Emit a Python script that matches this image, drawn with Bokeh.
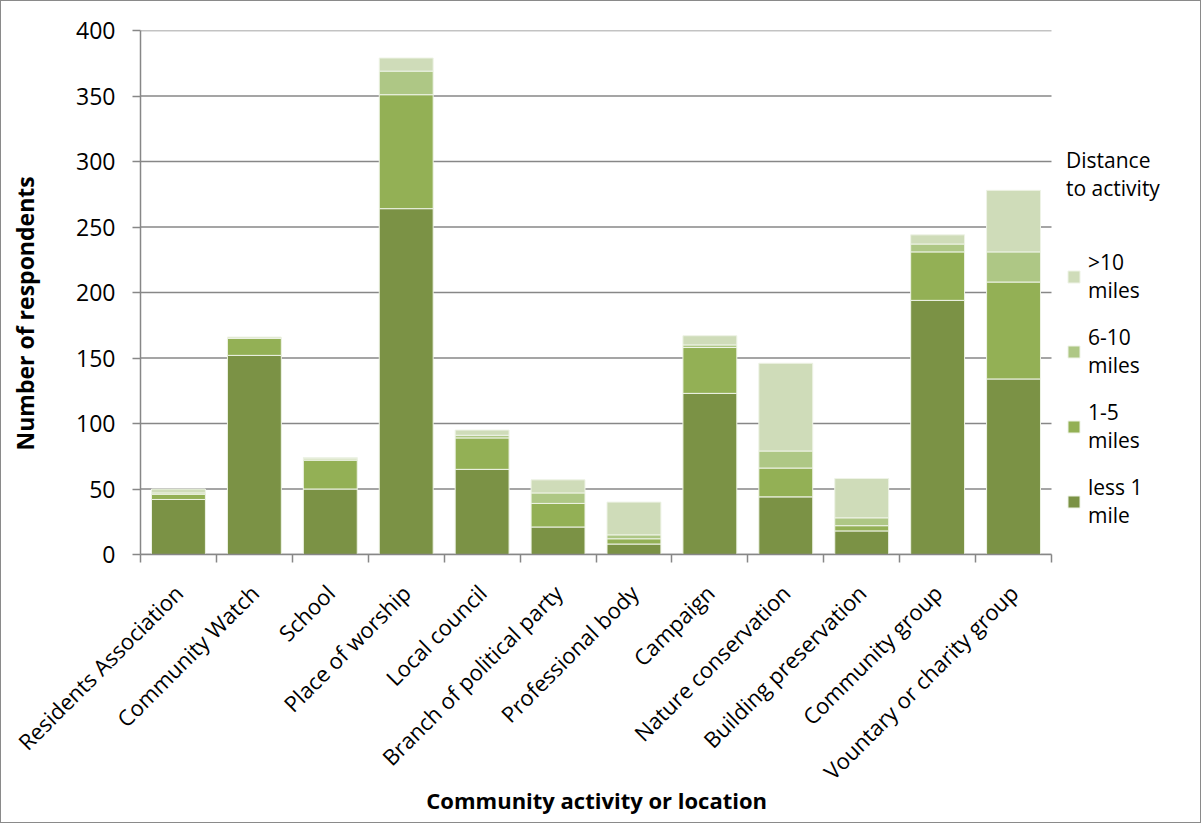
from bokeh.plotting import figure
from bokeh.models import (ColumnDataSource, Range1d, LinearAxis,
                          FixedTicker, Legend, LegendItem)
from bokeh.embed import file_html
from bokeh.resources import INLINE
from math import pi

# Respondents per activity, split by distance travelled
activities = ["Residents Association", "Community Watch", "School", "Place of worship",
              "Local council", "Branch of political party", "Professional body",
              "Campaign", "Nature conservation", "Building preservation",
              "Community group", "Vountary or charity group"]
less_1_mile = [42, 152, 50, 264, 65, 21, 8, 123, 44, 18, 194, 134]
miles_1_5 = [4, 13, 22, 87, 24, 18, 4, 35, 22, 4, 37, 74]
miles_6_10 = [1, 0, 1, 18, 2, 8, 3, 2, 13, 6, 6, 23]
over_10_miles = [3, 1, 1, 10, 4, 10, 25, 7, 67, 30, 7, 47]

series_keys = ["less1", "m1_5", "m6_10", "m10"]
series_labels = ["less 1\nmile", "1-5\nmiles", "6-10\nmiles", ">10\nmiles"]
series_colors = ["#7b9245", "#93b055", "#aec785", "#cfdcb9"]
y_ticks = [0, 50, 100, 150, 200, 250, 300, 350, 400]

FONT = "Open Sans"
GRID = "#878787"
NBSP = "\u00a0"

n = len(activities)
centers = [i + 0.5 for i in range(n)]
source = ColumnDataSource(dict(x=centers, less1=less_1_mile, m1_5=miles_1_5,
                               m6_10=miles_6_10, m10=over_10_miles))

# the frame runs to the right edge; the plotting area itself spans 0..n and the
# space beyond it holds the legend
FRAME_W = 1061
PLOT_W = 911
x_end = n * FRAME_W / PLOT_W

p = figure(width=1201, height=823, x_range=Range1d(0, x_end), y_range=Range1d(0, 400),
           x_axis_location=None, y_axis_location=None,
           output_backend="svg", toolbar_location=None,
           min_border_left=139, min_border_right=1, min_border_top=29,
           min_border_bottom=270)
p.styles = {"border": "1px solid #8a8a8a"}
p.outline_line_color = None
p.background_fill_color = "white"
p.border_fill_color = "white"
p.xgrid.grid_line_color = None
p.ygrid.grid_line_color = None

# horizontal gridlines across the plotting area only
p.segment(x0=0, x1=n, y0=y_ticks, y1=y_ticks, line_color=GRID, line_width=1.5,
          level="underlay")

renderers = p.vbar_stack(series_keys, x="x", width=0.71, source=source,
                         fill_color=series_colors, line_color="#eef3e6", line_width=1)

# y axis (title padded at its far end so it sits a little lower)
yaxis = LinearAxis(ticker=FixedTicker(ticks=y_ticks),
                   axis_label="Number of respondents" + NBSP * 7)
yaxis.axis_line_color = GRID
yaxis.axis_line_width = 1.5
yaxis.major_tick_line_color = GRID
yaxis.major_tick_line_width = 1.5
yaxis.major_tick_out = 8
yaxis.major_tick_in = 0
yaxis.minor_tick_line_color = None
yaxis.major_label_text_font = FONT
yaxis.major_label_text_font_size = "23px"
yaxis.major_label_text_color = "black"
yaxis.major_label_standoff = 17
yaxis.axis_label_text_font = FONT
yaxis.axis_label_text_font_size = "23px"
yaxis.axis_label_text_font_style = "bold"
yaxis.axis_label_text_color = "black"
yaxis.axis_label_standoff = 32
p.add_layout(yaxis, "left")

# boundary ticks between categories (no labels)
slot_ticks = list(range(n + 1))
slot_axis = LinearAxis(ticker=FixedTicker(ticks=slot_ticks), bounds=(0, n))
slot_axis.major_label_overrides = {t: "" for t in slot_ticks}
slot_axis.major_label_text_color = None
slot_axis.axis_line_color = GRID
slot_axis.axis_line_width = 1.5
slot_axis.major_tick_line_color = GRID
slot_axis.major_tick_line_width = 1.5
slot_axis.major_tick_out = 8
slot_axis.major_tick_in = 0
slot_axis.minor_tick_line_color = None
slot_axis.major_label_standoff = 0
p.add_layout(slot_axis, "below")

# category labels at bar centres; the title is padded on its right so that it
# centres under the bars rather than under the whole frame
xaxis = LinearAxis(ticker=FixedTicker(ticks=centers), bounds=(0, n),
                   axis_label="Community activity or location" + NBSP * 26)
xaxis.major_label_overrides = {c: name for c, name in zip(centers, activities)}
xaxis.axis_line_color = None
xaxis.major_tick_line_color = None
xaxis.minor_tick_line_color = None
xaxis.major_label_orientation = pi / 4
xaxis.major_label_text_font = FONT
xaxis.major_label_text_font_size = "22px"
xaxis.major_label_text_color = "black"
xaxis.major_label_standoff = 20
xaxis.axis_label_text_font = FONT
xaxis.axis_label_text_font_size = "22px"
xaxis.axis_label_text_font_style = "bold"
xaxis.axis_label_text_color = "black"
xaxis.axis_label_standoff = -14
p.add_layout(xaxis, "below")

# legend, top series first
items = [LegendItem(label=series_labels[i], renderers=[renderers[i]]) for i in [3, 2, 1, 0]]
legend = Legend(items=items, title="Distance\nto activity", location=(926, 25))
legend.border_line_color = None
legend.background_fill_alpha = 0
legend.title_text_font = FONT
legend.title_text_font_size = "21px"
legend.title_text_font_style = "normal"
legend.title_text_color = "black"
legend.title_text_line_height = 1.4
legend.title_standoff = 46
legend.label_text_font = FONT
legend.label_text_font_size = "21px"
legend.label_text_color = "black"
legend.label_text_line_height = 1.65
legend.glyph_width = 15
legend.glyph_height = 15
legend.label_standoff = 7
legend.spacing = 19
legend.padding = 0
legend.margin = 0
p.add_layout(legend)

open("out.html", "w").write(file_html(p, INLINE))
